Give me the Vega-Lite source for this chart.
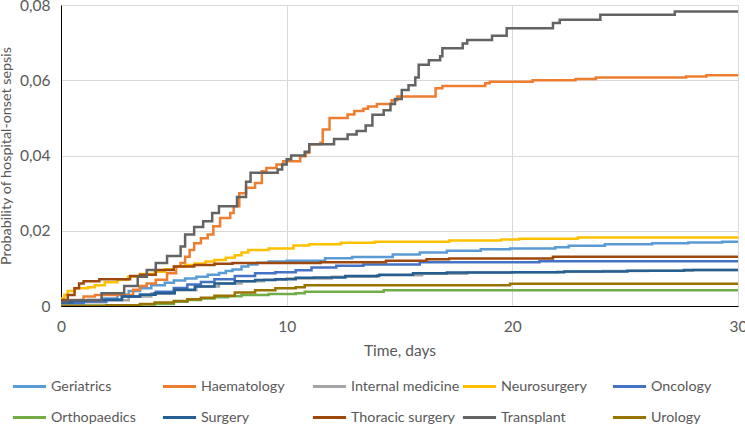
{
  "$schema": "https://vega.github.io/schema/vega-lite/v6.json",
  "autosize": {"type": "none"},
  "width": 677,
  "height": 301,
  "padding": {"left": 61, "top": 5, "right": 7, "bottom": 119},
  "background": "white",
  "config": {
    "font": "Lato",
    "view": {"stroke": null},
    "axis": {"labelColor": "#595959", "titleColor": "#595959", "labelFontSize": 15.5, "titleFontSize": 15.5, "titleFontWeight": "normal", "gridColor": "#D9D9D9", "gridWidth": 1},
    "legend": {"labelColor": "#595959", "labelFontSize": 14.3}
  },
  "datasets": {
    "curves": [
      {"ward": "Geriatrics", "day": 0, "prob": 0.0005},
      {"ward": "Geriatrics", "day": 0.3, "prob": 0.001},
      {"ward": "Geriatrics", "day": 1, "prob": 0.0015},
      {"ward": "Geriatrics", "day": 1.8, "prob": 0.002},
      {"ward": "Geriatrics", "day": 2.5, "prob": 0.003},
      {"ward": "Geriatrics", "day": 3, "prob": 0.004},
      {"ward": "Geriatrics", "day": 3.5, "prob": 0.0047},
      {"ward": "Geriatrics", "day": 4, "prob": 0.0055},
      {"ward": "Geriatrics", "day": 4.6, "prob": 0.0062},
      {"ward": "Geriatrics", "day": 5, "prob": 0.0068},
      {"ward": "Geriatrics", "day": 5.5, "prob": 0.0073},
      {"ward": "Geriatrics", "day": 6, "prob": 0.0078},
      {"ward": "Geriatrics", "day": 6.5, "prob": 0.0083},
      {"ward": "Geriatrics", "day": 7, "prob": 0.0088},
      {"ward": "Geriatrics", "day": 7.3, "prob": 0.0093},
      {"ward": "Geriatrics", "day": 7.6, "prob": 0.0097},
      {"ward": "Geriatrics", "day": 8, "prob": 0.0105},
      {"ward": "Geriatrics", "day": 8.3, "prob": 0.011},
      {"ward": "Geriatrics", "day": 8.7, "prob": 0.0115},
      {"ward": "Geriatrics", "day": 9.2, "prob": 0.0118},
      {"ward": "Geriatrics", "day": 10, "prob": 0.012},
      {"ward": "Geriatrics", "day": 11.7, "prob": 0.0127},
      {"ward": "Geriatrics", "day": 12.9, "prob": 0.013},
      {"ward": "Geriatrics", "day": 14.7, "prob": 0.0137},
      {"ward": "Geriatrics", "day": 15.9, "prob": 0.0142},
      {"ward": "Geriatrics", "day": 17.1, "prob": 0.0147},
      {"ward": "Geriatrics", "day": 18.6, "prob": 0.0151},
      {"ward": "Geriatrics", "day": 19.9, "prob": 0.0153},
      {"ward": "Geriatrics", "day": 21.9, "prob": 0.0156},
      {"ward": "Geriatrics", "day": 22.5, "prob": 0.016},
      {"ward": "Geriatrics", "day": 24.1, "prob": 0.0164},
      {"ward": "Geriatrics", "day": 26.2, "prob": 0.0167},
      {"ward": "Geriatrics", "day": 27.8, "prob": 0.0169},
      {"ward": "Geriatrics", "day": 29.3, "prob": 0.0171},
      {"ward": "Geriatrics", "day": 30, "prob": 0.0171},

      {"ward": "Haematology", "day": 0, "prob": 0.001},
      {"ward": "Haematology", "day": 0.3, "prob": 0.0016},
      {"ward": "Haematology", "day": 1, "prob": 0.0025},
      {"ward": "Haematology", "day": 1.5, "prob": 0.0029},
      {"ward": "Haematology", "day": 3.2, "prob": 0.0043},
      {"ward": "Haematology", "day": 3.5, "prob": 0.0053},
      {"ward": "Haematology", "day": 3.8, "prob": 0.006},
      {"ward": "Haematology", "day": 4.2, "prob": 0.007},
      {"ward": "Haematology", "day": 4.7, "prob": 0.0087},
      {"ward": "Haematology", "day": 5.1, "prob": 0.0105},
      {"ward": "Haematology", "day": 5.3, "prob": 0.0114},
      {"ward": "Haematology", "day": 5.5, "prob": 0.0131},
      {"ward": "Haematology", "day": 5.7, "prob": 0.0149},
      {"ward": "Haematology", "day": 5.9, "prob": 0.0167},
      {"ward": "Haematology", "day": 6.2, "prob": 0.018},
      {"ward": "Haematology", "day": 6.5, "prob": 0.019},
      {"ward": "Haematology", "day": 6.75, "prob": 0.0212},
      {"ward": "Haematology", "day": 7.05, "prob": 0.0234},
      {"ward": "Haematology", "day": 7.5, "prob": 0.0247},
      {"ward": "Haematology", "day": 7.65, "prob": 0.0265},
      {"ward": "Haematology", "day": 7.9, "prob": 0.03},
      {"ward": "Haematology", "day": 8.2, "prob": 0.0314},
      {"ward": "Haematology", "day": 8.6, "prob": 0.0327},
      {"ward": "Haematology", "day": 8.9, "prob": 0.0358},
      {"ward": "Haematology", "day": 9.1, "prob": 0.0367},
      {"ward": "Haematology", "day": 9.55, "prob": 0.0376},
      {"ward": "Haematology", "day": 9.85, "prob": 0.0385},
      {"ward": "Haematology", "day": 10.6, "prob": 0.0398},
      {"ward": "Haematology", "day": 10.85, "prob": 0.0407},
      {"ward": "Haematology", "day": 11.0, "prob": 0.043},
      {"ward": "Haematology", "day": 11.5, "prob": 0.0434},
      {"ward": "Haematology", "day": 11.6, "prob": 0.0469},
      {"ward": "Haematology", "day": 11.9, "prob": 0.05},
      {"ward": "Haematology", "day": 12.7, "prob": 0.0509},
      {"ward": "Haematology", "day": 13.0, "prob": 0.0518},
      {"ward": "Haematology", "day": 13.4, "prob": 0.0524},
      {"ward": "Haematology", "day": 13.6, "prob": 0.053},
      {"ward": "Haematology", "day": 14.0, "prob": 0.0537},
      {"ward": "Haematology", "day": 14.65, "prob": 0.0547},
      {"ward": "Haematology", "day": 14.9, "prob": 0.0557},
      {"ward": "Haematology", "day": 16.6, "prob": 0.0579},
      {"ward": "Haematology", "day": 16.9, "prob": 0.0585},
      {"ward": "Haematology", "day": 18.8, "prob": 0.0592},
      {"ward": "Haematology", "day": 19.0, "prob": 0.0596},
      {"ward": "Haematology", "day": 20.9, "prob": 0.06},
      {"ward": "Haematology", "day": 22.8, "prob": 0.0603},
      {"ward": "Haematology", "day": 23.7, "prob": 0.0607},
      {"ward": "Haematology", "day": 27.7, "prob": 0.061},
      {"ward": "Haematology", "day": 28.6, "prob": 0.0613},
      {"ward": "Haematology", "day": 30, "prob": 0.0613},

      {"ward": "Internal medicine", "day": 0, "prob": 0.0005},
      {"ward": "Internal medicine", "day": 1, "prob": 0.001},
      {"ward": "Internal medicine", "day": 2, "prob": 0.0015},
      {"ward": "Internal medicine", "day": 3, "prob": 0.0025},
      {"ward": "Internal medicine", "day": 4, "prob": 0.0033},
      {"ward": "Internal medicine", "day": 5, "prob": 0.0042},
      {"ward": "Internal medicine", "day": 6, "prob": 0.0052},
      {"ward": "Internal medicine", "day": 7, "prob": 0.006},
      {"ward": "Internal medicine", "day": 8, "prob": 0.0066},
      {"ward": "Internal medicine", "day": 9, "prob": 0.007},
      {"ward": "Internal medicine", "day": 10, "prob": 0.0073},
      {"ward": "Internal medicine", "day": 12, "prob": 0.0078},
      {"ward": "Internal medicine", "day": 14, "prob": 0.0082},
      {"ward": "Internal medicine", "day": 16, "prob": 0.0086},
      {"ward": "Internal medicine", "day": 18, "prob": 0.0089},
      {"ward": "Internal medicine", "day": 20, "prob": 0.009},
      {"ward": "Internal medicine", "day": 22, "prob": 0.0091},
      {"ward": "Internal medicine", "day": 24, "prob": 0.0093},
      {"ward": "Internal medicine", "day": 26, "prob": 0.0094},
      {"ward": "Internal medicine", "day": 28, "prob": 0.0096},
      {"ward": "Internal medicine", "day": 30, "prob": 0.0096},

      {"ward": "Neurosurgery", "day": 0, "prob": 0.002},
      {"ward": "Neurosurgery", "day": 0.15, "prob": 0.003},
      {"ward": "Neurosurgery", "day": 0.3, "prob": 0.004},
      {"ward": "Neurosurgery", "day": 0.6, "prob": 0.0047},
      {"ward": "Neurosurgery", "day": 1.2, "prob": 0.005},
      {"ward": "Neurosurgery", "day": 1.5, "prob": 0.0055},
      {"ward": "Neurosurgery", "day": 1.94, "prob": 0.0063},
      {"ward": "Neurosurgery", "day": 2.5, "prob": 0.007},
      {"ward": "Neurosurgery", "day": 2.97, "prob": 0.0078},
      {"ward": "Neurosurgery", "day": 3.5, "prob": 0.0085},
      {"ward": "Neurosurgery", "day": 4.15, "prob": 0.0091},
      {"ward": "Neurosurgery", "day": 4.6, "prob": 0.0098},
      {"ward": "Neurosurgery", "day": 5.04, "prob": 0.0105},
      {"ward": "Neurosurgery", "day": 5.5, "prob": 0.0109},
      {"ward": "Neurosurgery", "day": 5.93, "prob": 0.0113},
      {"ward": "Neurosurgery", "day": 6.4, "prob": 0.0118},
      {"ward": "Neurosurgery", "day": 6.8, "prob": 0.0122},
      {"ward": "Neurosurgery", "day": 7.3, "prob": 0.0128},
      {"ward": "Neurosurgery", "day": 7.7, "prob": 0.0135},
      {"ward": "Neurosurgery", "day": 8.0, "prob": 0.0142},
      {"ward": "Neurosurgery", "day": 8.3, "prob": 0.0149},
      {"ward": "Neurosurgery", "day": 9.2, "prob": 0.0153},
      {"ward": "Neurosurgery", "day": 10.3, "prob": 0.0161},
      {"ward": "Neurosurgery", "day": 11.0, "prob": 0.0164},
      {"ward": "Neurosurgery", "day": 12.4, "prob": 0.0168},
      {"ward": "Neurosurgery", "day": 13.9, "prob": 0.0171},
      {"ward": "Neurosurgery", "day": 17.2, "prob": 0.0174},
      {"ward": "Neurosurgery", "day": 19.5, "prob": 0.0177},
      {"ward": "Neurosurgery", "day": 20.3, "prob": 0.0179},
      {"ward": "Neurosurgery", "day": 22.9, "prob": 0.0182},
      {"ward": "Neurosurgery", "day": 30, "prob": 0.0182},

      {"ward": "Oncology", "day": 0, "prob": 0.0008},
      {"ward": "Oncology", "day": 1, "prob": 0.0012},
      {"ward": "Oncology", "day": 2, "prob": 0.0017},
      {"ward": "Oncology", "day": 2.7, "prob": 0.0025},
      {"ward": "Oncology", "day": 3.5, "prob": 0.003},
      {"ward": "Oncology", "day": 4.2, "prob": 0.0038},
      {"ward": "Oncology", "day": 5, "prob": 0.0048},
      {"ward": "Oncology", "day": 5.6, "prob": 0.0057},
      {"ward": "Oncology", "day": 6.2, "prob": 0.0064},
      {"ward": "Oncology", "day": 6.8, "prob": 0.0071},
      {"ward": "Oncology", "day": 7.7, "prob": 0.008},
      {"ward": "Oncology", "day": 8.6, "prob": 0.0087},
      {"ward": "Oncology", "day": 9.5, "prob": 0.009},
      {"ward": "Oncology", "day": 10.4, "prob": 0.0095},
      {"ward": "Oncology", "day": 11.1, "prob": 0.0102},
      {"ward": "Oncology", "day": 12.2, "prob": 0.0107},
      {"ward": "Oncology", "day": 13.4, "prob": 0.011},
      {"ward": "Oncology", "day": 15.9, "prob": 0.0116},
      {"ward": "Oncology", "day": 21.2, "prob": 0.0119},
      {"ward": "Oncology", "day": 30, "prob": 0.0119},

      {"ward": "Orthopaedics", "day": 0, "prob": 0.0},
      {"ward": "Orthopaedics", "day": 1, "prob": 0.0001},
      {"ward": "Orthopaedics", "day": 2.7, "prob": 0.0002},
      {"ward": "Orthopaedics", "day": 3.5, "prob": 0.0004},
      {"ward": "Orthopaedics", "day": 4.15, "prob": 0.0005},
      {"ward": "Orthopaedics", "day": 5, "prob": 0.0011},
      {"ward": "Orthopaedics", "day": 5.6, "prob": 0.0016},
      {"ward": "Orthopaedics", "day": 6.2, "prob": 0.002},
      {"ward": "Orthopaedics", "day": 6.8, "prob": 0.0023},
      {"ward": "Orthopaedics", "day": 7.4, "prob": 0.0026},
      {"ward": "Orthopaedics", "day": 8, "prob": 0.0029},
      {"ward": "Orthopaedics", "day": 9.2, "prob": 0.0032},
      {"ward": "Orthopaedics", "day": 10.4, "prob": 0.0034},
      {"ward": "Orthopaedics", "day": 10.8, "prob": 0.0038},
      {"ward": "Orthopaedics", "day": 14.3, "prob": 0.0042},
      {"ward": "Orthopaedics", "day": 30, "prob": 0.0042},

      {"ward": "Surgery", "day": 0, "prob": 0.001},
      {"ward": "Surgery", "day": 0.5, "prob": 0.0014},
      {"ward": "Surgery", "day": 1.2, "prob": 0.0016},
      {"ward": "Surgery", "day": 2.7, "prob": 0.0025},
      {"ward": "Surgery", "day": 3.5, "prob": 0.003},
      {"ward": "Surgery", "day": 4.15, "prob": 0.0034},
      {"ward": "Surgery", "day": 5.04, "prob": 0.0043},
      {"ward": "Surgery", "day": 5.93, "prob": 0.0052},
      {"ward": "Surgery", "day": 6.8, "prob": 0.006},
      {"ward": "Surgery", "day": 7.7, "prob": 0.0066},
      {"ward": "Surgery", "day": 8.6, "prob": 0.0069},
      {"ward": "Surgery", "day": 9.5, "prob": 0.0071},
      {"ward": "Surgery", "day": 10.4, "prob": 0.0075},
      {"ward": "Surgery", "day": 11.2, "prob": 0.0076},
      {"ward": "Surgery", "day": 12.6, "prob": 0.008},
      {"ward": "Surgery", "day": 14.1, "prob": 0.0083},
      {"ward": "Surgery", "day": 15.6, "prob": 0.0087},
      {"ward": "Surgery", "day": 17.1, "prob": 0.0089},
      {"ward": "Surgery", "day": 20, "prob": 0.009},
      {"ward": "Surgery", "day": 22.3, "prob": 0.0092},
      {"ward": "Surgery", "day": 25.1, "prob": 0.0094},
      {"ward": "Surgery", "day": 27.6, "prob": 0.0096},
      {"ward": "Surgery", "day": 30, "prob": 0.0096},

      {"ward": "Thoracic surgery", "day": 0, "prob": 0.0016},
      {"ward": "Thoracic surgery", "day": 0.3, "prob": 0.0029},
      {"ward": "Thoracic surgery", "day": 0.6, "prob": 0.0047},
      {"ward": "Thoracic surgery", "day": 0.8, "prob": 0.006},
      {"ward": "Thoracic surgery", "day": 1.0, "prob": 0.0066},
      {"ward": "Thoracic surgery", "day": 1.7, "prob": 0.0071},
      {"ward": "Thoracic surgery", "day": 3.06, "prob": 0.008},
      {"ward": "Thoracic surgery", "day": 3.5, "prob": 0.0083},
      {"ward": "Thoracic surgery", "day": 4.2, "prob": 0.0096},
      {"ward": "Thoracic surgery", "day": 5.0, "prob": 0.0105},
      {"ward": "Thoracic surgery", "day": 5.9, "prob": 0.0109},
      {"ward": "Thoracic surgery", "day": 6.8, "prob": 0.0112},
      {"ward": "Thoracic surgery", "day": 7.6, "prob": 0.0114},
      {"ward": "Thoracic surgery", "day": 11.5, "prob": 0.0116},
      {"ward": "Thoracic surgery", "day": 14.4, "prob": 0.012},
      {"ward": "Thoracic surgery", "day": 16.2, "prob": 0.0124},
      {"ward": "Thoracic surgery", "day": 17.2, "prob": 0.0126},
      {"ward": "Thoracic surgery", "day": 21.8, "prob": 0.0131},
      {"ward": "Thoracic surgery", "day": 30, "prob": 0.0131},

      {"ward": "Transplant", "day": 0, "prob": 0.0012},
      {"ward": "Transplant", "day": 0.3, "prob": 0.0015},
      {"ward": "Transplant", "day": 1.8, "prob": 0.0034},
      {"ward": "Transplant", "day": 2.8, "prob": 0.0053},
      {"ward": "Transplant", "day": 3.4, "prob": 0.0078},
      {"ward": "Transplant", "day": 3.8, "prob": 0.0096},
      {"ward": "Transplant", "day": 4.2, "prob": 0.0114},
      {"ward": "Transplant", "day": 4.7, "prob": 0.0133},
      {"ward": "Transplant", "day": 5.3, "prob": 0.0158},
      {"ward": "Transplant", "day": 5.5, "prob": 0.019},
      {"ward": "Transplant", "day": 5.9, "prob": 0.021},
      {"ward": "Transplant", "day": 6.3, "prob": 0.0225},
      {"ward": "Transplant", "day": 6.7, "prob": 0.0247},
      {"ward": "Transplant", "day": 7.0, "prob": 0.0265},
      {"ward": "Transplant", "day": 7.8, "prob": 0.029},
      {"ward": "Transplant", "day": 8.2, "prob": 0.033},
      {"ward": "Transplant", "day": 8.4, "prob": 0.0354},
      {"ward": "Transplant", "day": 9.6, "prob": 0.0363},
      {"ward": "Transplant", "day": 9.8, "prob": 0.0376},
      {"ward": "Transplant", "day": 10.0, "prob": 0.039},
      {"ward": "Transplant", "day": 10.2, "prob": 0.04},
      {"ward": "Transplant", "day": 10.8, "prob": 0.041},
      {"ward": "Transplant", "day": 11.0, "prob": 0.043},
      {"ward": "Transplant", "day": 12.1, "prob": 0.0444},
      {"ward": "Transplant", "day": 12.7, "prob": 0.0456},
      {"ward": "Transplant", "day": 13.1, "prob": 0.0465},
      {"ward": "Transplant", "day": 13.5, "prob": 0.048},
      {"ward": "Transplant", "day": 13.8, "prob": 0.0508},
      {"ward": "Transplant", "day": 14.3, "prob": 0.052},
      {"ward": "Transplant", "day": 14.6, "prob": 0.0537},
      {"ward": "Transplant", "day": 14.8, "prob": 0.055},
      {"ward": "Transplant", "day": 15.1, "prob": 0.0574},
      {"ward": "Transplant", "day": 15.4, "prob": 0.0587},
      {"ward": "Transplant", "day": 15.7, "prob": 0.0607},
      {"ward": "Transplant", "day": 15.85, "prob": 0.0641},
      {"ward": "Transplant", "day": 16.3, "prob": 0.0653},
      {"ward": "Transplant", "day": 16.8, "prob": 0.0664},
      {"ward": "Transplant", "day": 16.9, "prob": 0.0685},
      {"ward": "Transplant", "day": 17.8, "prob": 0.0698},
      {"ward": "Transplant", "day": 18.0, "prob": 0.0707},
      {"ward": "Transplant", "day": 19.1, "prob": 0.0718},
      {"ward": "Transplant", "day": 19.75, "prob": 0.0738},
      {"ward": "Transplant", "day": 21.8, "prob": 0.0752},
      {"ward": "Transplant", "day": 22.1, "prob": 0.0761},
      {"ward": "Transplant", "day": 23.9, "prob": 0.0774},
      {"ward": "Transplant", "day": 27.2, "prob": 0.0783},
      {"ward": "Transplant", "day": 30, "prob": 0.0783},

      {"ward": "Urology", "day": 0, "prob": 0.0},
      {"ward": "Urology", "day": 2, "prob": 0.0002},
      {"ward": "Urology", "day": 3.5, "prob": 0.0005},
      {"ward": "Urology", "day": 4.15, "prob": 0.0009},
      {"ward": "Urology", "day": 5, "prob": 0.0013},
      {"ward": "Urology", "day": 5.6, "prob": 0.0018},
      {"ward": "Urology", "day": 6.2, "prob": 0.0022},
      {"ward": "Urology", "day": 6.8, "prob": 0.0027},
      {"ward": "Urology", "day": 7.7, "prob": 0.0036},
      {"ward": "Urology", "day": 8.6, "prob": 0.0042},
      {"ward": "Urology", "day": 9.5, "prob": 0.0047},
      {"ward": "Urology", "day": 10.4, "prob": 0.005},
      {"ward": "Urology", "day": 10.8, "prob": 0.0055},
      {"ward": "Urology", "day": 19.9, "prob": 0.0059},
      {"ward": "Urology", "day": 30, "prob": 0.0059}
    ]
  },
  "data": {"name": "curves"},
  "mark": {"type": "line", "interpolate": "step-after", "strokeWidth": 2.5, "clip": true},
  "encoding": {
    "x": {
      "field": "day", "type": "quantitative",
      "scale": {"domain": [0, 30], "nice": false, "zero": true},
      "axis": {"values": [0, 10, 20, 30], "title": "Time, days", "ticks": false, "labelPadding": 13, "titlePadding": 9, "domainColor": "#000000", "domainWidth": 1, "labelFlush": false}
    },
    "y": {
      "field": "prob", "type": "quantitative",
      "scale": {"domain": [0, 0.08], "nice": false},
      "axis": {"values": [0, 0.02, 0.04, 0.06, 0.08], "title": "Probability of hospital-onset sepsis", "titleFontSize": 14.3, "ticks": false, "labelPadding": 11, "titlePadding": 6, "domainColor": "#000000", "domainWidth": 1, "labelFlush": false,
        "labelExpr": "datum.value == 0 ? '0' : replace(format(datum.value, '.2f'), '.', ',')"}
    },
    "color": {
      "field": "ward", "type": "nominal",
      "scale": {
        "domain": ["Geriatrics", "Haematology", "Internal medicine", "Neurosurgery", "Oncology", "Orthopaedics", "Surgery", "Thoracic surgery", "Transplant", "Urology"],
        "range": ["#5B9BD5", "#ED7D31", "#A5A5A5", "#FFC000", "#4472C4", "#70AD47", "#255E91", "#9E480E", "#636363", "#997300"]
      },
      "legend": {
        "title": null, "orient": "none", "legendX": -50, "legendY": 363,
        "direction": "horizontal", "columns": 5, "gridAlign": "all",
        "symbolType": "stroke", "symbolSize": 1100, "symbolStrokeWidth": 3,
        "labelOffset": 3, "columnPadding": -4, "rowPadding": 5, "labelLimit": 200
      }
    }
  }
}
